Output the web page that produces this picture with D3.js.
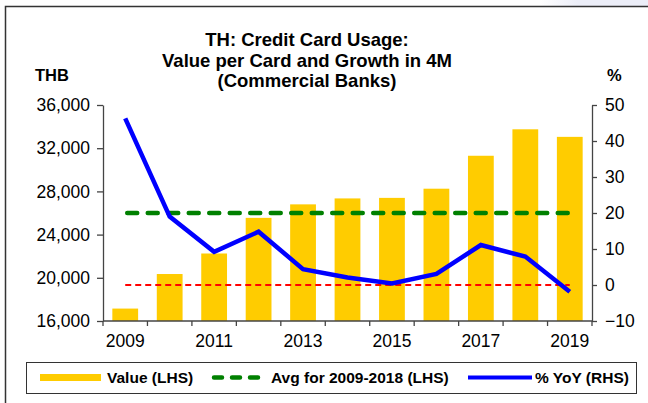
<!DOCTYPE html>
<html>
<head>
<meta charset="utf-8">
<script src="https://cdn.jsdelivr.net/npm/d3@7"></script>
<style>
  body { margin: 0; background: #fff; }
  svg { display: block; font-family: "Liberation Sans", Arial, sans-serif; }
</style>
</head>
<body>
<div id="chart"></div>
<script>
// data
const years = [2009, 2010, 2011, 2012, 2013, 2014, 2015, 2016, 2017, 2018, 2019];
const valuePerCard = [17150, 20350, 22250, 25550, 26800, 27350, 27400, 28250, 31300, 33750, 33050];
const yoyGrowth = [46.3, 19.0, 9.2, 14.8, 4.4, 2.1, 0.4, 3.1, 11.1, 7.9, -1.9];
const avg2009to2018 = 26000;
const zeroLine = 0;
const leftTicks = [16000, 20000, 24000, 28000, 32000, 36000];
const rightTicks = [-10, 0, 10, 20, 30, 40, 50];
const xLabels = [2009, 2011, 2013, 2015, 2017, 2019];
const titleLines = ["TH: Credit Card Usage:", "Value per Card and Growth in 4M", "(Commercial Banks)"];

const width = 648, height = 403;
const plotLeft = 103, plotRight = 592, plotTop = 105, plotBottom = 321;

const svg = d3.select("#chart").append("svg")
    .attr("width", width)
    .attr("height", height);

// faint blue band in the top right corner
const grad = svg.append("defs").append("linearGradient")
    .attr("id", "corner").attr("x1", 0).attr("x2", 1);
grad.append("stop").attr("offset", 0).attr("stop-color", "#fff");
grad.append("stop").attr("offset", 0.35).attr("stop-color", "#eceef8");
grad.append("stop").attr("offset", 1).attr("stop-color", "#eceef8");
svg.append("rect").attr("x", 540).attr("y", 0).attr("width", 108).attr("height", 6)
    .attr("fill", "url(#corner)");

// outer frame (left and top edges only are visible)
svg.append("path")
    .attr("d", "M5.5," + height + "V6.5H" + width)
    .attr("fill", "none").attr("stroke", "#333").attr("stroke-width", 1.5);

// scales
const x = d3.scaleBand().domain(years).range([plotLeft, plotRight])
    .paddingInner(0.42).paddingOuter(0.21);
const yL = d3.scaleLinear().domain([16000, 36000]).range([plotBottom, plotTop]);
const yR = d3.scaleLinear().domain([-10, 50]).range([plotBottom, plotTop]);
const cx = d => x(d) + x.bandwidth() / 2;

// title
svg.append("text")
    .attr("text-anchor", "middle")
    .attr("font-weight", "bold").attr("font-size", 18.5)
    .selectAll("tspan").data(titleLines).join("tspan")
    .attr("x", 307)
    .attr("y", (d, i) => 46 + i * 20.5)
    .text(d => d);

svg.append("text").attr("x", 35).attr("y", 81)
    .attr("font-weight", "bold").attr("font-size", 16.5).text("THB");
svg.append("text").attr("x", 607).attr("y", 81)
    .attr("font-weight", "bold").attr("font-size", 16.5).text("%");

// bars
svg.append("g").selectAll("rect").data(years).join("rect")
    .attr("x", d => x(d))
    .attr("width", x.bandwidth())
    .attr("y", (d, i) => yL(valuePerCard[i]))
    .attr("height", (d, i) => plotBottom - yL(valuePerCard[i]))
    .attr("fill", "#ffcc00");

// reference lines
const first = years[0], last = years[years.length - 1];
svg.append("line")
    .attr("x1", cx(first)).attr("x2", cx(last))
    .attr("y1", yR(zeroLine)).attr("y2", yR(zeroLine))
    .attr("stroke", "#ff0000").attr("stroke-width", 2)
    .attr("stroke-dasharray", "6,4");

svg.append("line")
    .attr("x1", cx(first) + 2).attr("x2", cx(last) - 2)
    .attr("y1", yL(avg2009to2018)).attr("y2", yL(avg2009to2018))
    .attr("stroke", "#008000").attr("stroke-width", 4.5)
    .attr("stroke-linecap", "round")
    .attr("stroke-dasharray", "10,10.5");

// yoy line
const line = d3.line()
    .x((d, i) => cx(years[i]))
    .y(d => yR(d));
svg.append("path").datum(yoyGrowth)
    .attr("d", line)
    .attr("fill", "none").attr("stroke", "#0000ff")
    .attr("stroke-width", 4.5).attr("stroke-linejoin", "miter");

// axes
const axisColor = "#444";
const gL = svg.append("g").attr("transform", `translate(${plotLeft},0)`)
    .call(d3.axisLeft(yL).tickValues(leftTicks).tickSize(6).tickPadding(7)
        .tickFormat(d3.format(",")).tickSizeOuter(0));
const gR = svg.append("g").attr("transform", `translate(${plotRight},0)`)
    .call(d3.axisRight(yR).tickValues(rightTicks).tickSize(5).tickPadding(8)
        .tickSizeOuter(0));
[gL, gR].forEach(g => {
    g.selectAll("path, line").attr("stroke", axisColor).attr("stroke-width", 1.3);
    g.selectAll("text").attr("font-size", 17.5).attr("fill", "#000")
        .attr("font-family", "Liberation Sans, Arial, sans-serif");
});

// bottom axis: ticks at category boundaries, labels under odd years
const gB = svg.append("g");
gB.append("line").attr("x1", plotLeft).attr("x2", plotRight)
    .attr("y1", plotBottom).attr("y2", plotBottom)
    .attr("stroke", axisColor).attr("stroke-width", 1.3);
const boundaries = years.map(d => x(d) - x.step() * x.paddingInner() / 2)
    .concat([plotRight]);
boundaries[0] = plotLeft;
gB.selectAll("line.tick").data(boundaries).join("line")
    .attr("class", "tick")
    .attr("x1", d => d).attr("x2", d => d)
    .attr("y1", plotBottom).attr("y2", plotBottom + 5)
    .attr("stroke", axisColor).attr("stroke-width", 1.3);
gB.selectAll("text").data(xLabels).join("text")
    .attr("x", d => cx(d)).attr("y", 347)
    .attr("text-anchor", "middle").attr("font-size", 17.5)
    .text(d => d);

// legend
const lg = svg.append("g");
lg.append("rect").attr("x", 26.5).attr("y", 362.5).attr("width", 610).attr("height", 31)
    .attr("fill", "#fff").attr("stroke", "#333").attr("stroke-width", 1);
lg.append("rect").attr("x", 40).attr("y", 374).attr("width", 61).attr("height", 7)
    .attr("fill", "#ffcc00");
lg.append("line").attr("x1", 214).attr("x2", 264).attr("y1", 377.5).attr("y2", 377.5)
    .attr("stroke", "#008000").attr("stroke-width", 4.5)
    .attr("stroke-linecap", "round").attr("stroke-dasharray", "8,10");
lg.append("line").attr("x1", 468).attr("x2", 532).attr("y1", 377.5).attr("y2", 377.5)
    .attr("stroke", "#0000ff").attr("stroke-width", 4);
const legendText = [
    { x: 107, t: "Value (LHS)" },
    { x: 271, t: "Avg for 2009-2018 (LHS)" },
    { x: 535, t: "% YoY (RHS)" }
];
lg.selectAll("text").data(legendText).join("text")
    .attr("x", d => d.x).attr("y", 383)
    .attr("font-weight", "bold").attr("font-size", 15.5)
    .text(d => d.t);
</script>
</body>
</html>
